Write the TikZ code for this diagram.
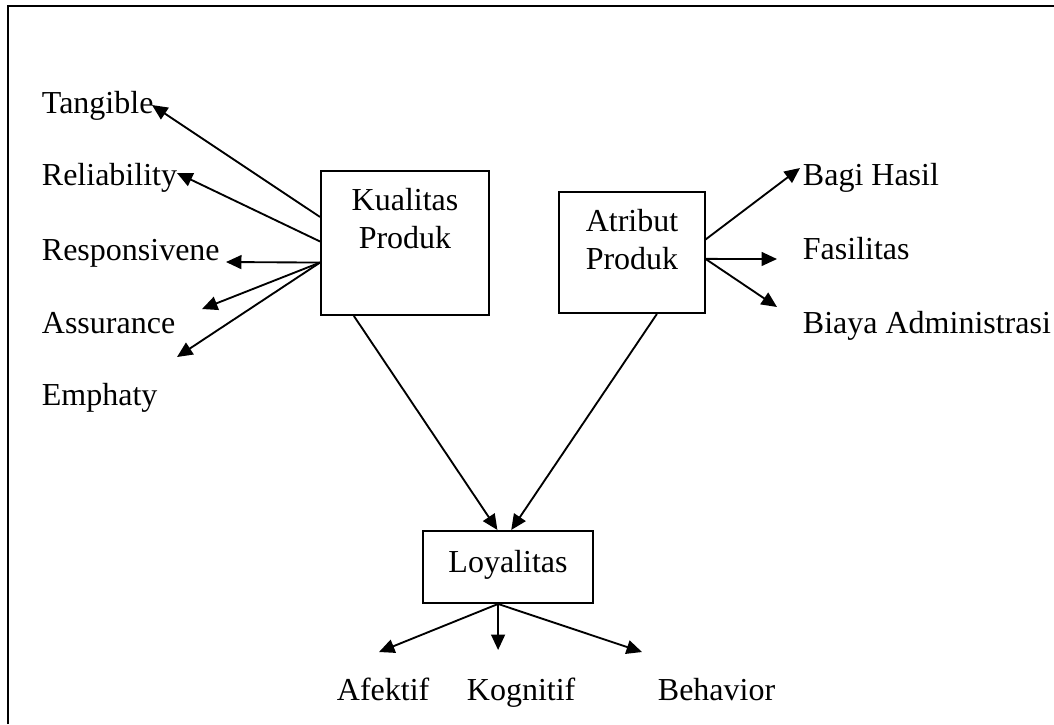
\documentclass[tikz,border=0pt]{standalone}
\usepackage{fontspec}
\setmainfont{Liberation Serif}
\usetikzlibrary{arrows.meta}

\newcommand{\twolines}[2]{\begin{tabular}[b]{@{}c@{}}#1\\#2\end{tabular}}

\tikzset{
    box/.style={draw, line width=0.75pt, inner sep=0pt, anchor=base},
    lbl/.style={anchor=base west, inner sep=0pt},
    arr/.style={-{Triangle[length=5.8pt,width=5.2pt]}}
}

\begin{document}
\begin{tikzpicture}[x=0.375pt, y=-0.375pt, font=\fontsize{12}{13.9}\selectfont]
    \useasboundingbox (0,0) rectangle (1054,724);
    \draw[line width=0.75pt] (8,724) |- (1054,6);

    \draw[line width=0.7pt]
            (405,248) node[box, minimum width=63pt, text height=28.9pt, text depth=25.1pt] (kp) {\twolines{Kualitas}{Produk}}
            (632,269) node[box, minimum width=54.4pt, text height=28.9pt, text depth=16.5pt] (ap) {\twolines{Atribut}{Produk}}
            (508,572) node[box, minimum width=63.4pt, text height=15.4pt, text depth=11.6pt] (ly) {Loyalitas}

            (41,113) node[lbl] (tg) {Tangible}
            (41,185) node[lbl] (rl) {Reliability}
            (41,260) node[lbl] (rs) {Responsivene}
            (41,333) node[lbl] (as) {Assurance}
            (41,405) node[lbl] (em) {Emphaty}
            (802,185) node[lbl] (bh) {Bagi Hasil}
            (802,259) node[lbl] (fs) {Fasilitas}
            (802,333) node[lbl] (ba) {Biaya Administrasi}
            (336,700) node[lbl] (af) {Afektif}
            (466,700) node[lbl] (kg) {Kognitif}
            (657,700) node[lbl] (bv) {Behavior}

            (152,105) coordinate (tgend)
            (177,173) coordinate (rlend)
            (226,262) coordinate (rsend)
            (202,309) coordinate (asend)
            (177,357) coordinate (emend)
            (800,168) coordinate (bhend)
            (777,259) coordinate (fsend)
            (777,307) coordinate (baend)
            (379,652) coordinate (afend)
            (499,650) coordinate (kgend)
            (642,652) coordinate (bvend)

            (kp.163) edge [arr] (tgend)
            (kp.179) edge [arr] (rlend)
            (kp.193) edge [arr] (rsend)
            (kp.193) edge [arr] (asend)
            (kp.193) edge [arr] (emend)
            (ap.10) edge [arr] (bhend)
            (ap.355) edge [arr] (fsend)
            (ap.355) edge [arr] (baend)
            (kp.235) edge [arr] (ly.106)
            (ap.292) edge [arr] (ly.85)
            (ly.255) edge [arr] (afend)
            (ly.255) edge [arr] (ly.255 |- kgend)
            (ly.255) edge [arr] (bvend)
            ;
\end{tikzpicture}
\end{document}
